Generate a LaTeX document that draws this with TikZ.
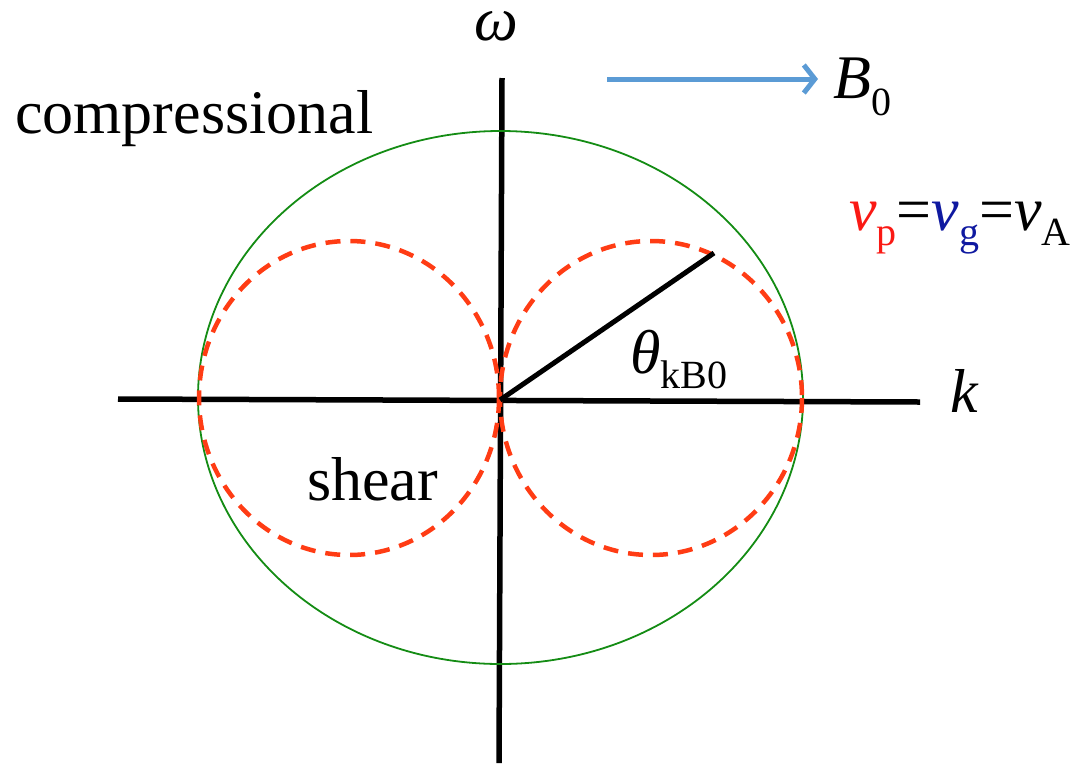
\documentclass[tikz,border=0pt]{standalone}
\usepackage{fontspec}
\newfontfamily\tnr{LiberationSerif}[Extension=.ttf,UprightFont=*-Regular,ItalicFont=*-Italic,BoldFont=*-Bold]
\usetikzlibrary{arrows.meta}
\definecolor{ellgreen}{RGB}{20,140,20}
\definecolor{dashred}{RGB}{255,60,20}
\definecolor{arrblue}{RGB}{91,155,213}
\definecolor{vpred}{RGB}{250,25,20}
\definecolor{vgblue}{RGB}{15,25,160}
\newcommand\bigfs{\tnr\fontsize{62}{70}\selectfont}
\newcommand\subfs{\tnr\fontsize{40}{44}\selectfont}
\begin{document}
\begin{tikzpicture}[x=1pt,y=-1pt,
  axisline/.style={line width=5.5pt,black},
  ellcurve/.style={line width=1.8pt,ellgreen},
  shearcurve/.style={line width=4.5pt,dashred,dash pattern=on 15pt off 10pt},
  lbl/.style={anchor=base west,inner sep=0pt,font=\bigfs}]
\useasboundingbox (0,0) rectangle (1081,764);
% axes
\coordinate (ktop) at (502,78);
\coordinate (kbot) at (499,763);
\coordinate (kl) at (118,399);
\coordinate (kr) at (920,402);
\coordinate (O) at (500,400);
\coordinate (P) at (714,253);
\draw[axisline] (kl) -- (kr);
\draw[axisline] (ktop) -- (kbot);
% curves
\draw[ellcurve] (500.5,397.5) ellipse [x radius=302.5, y radius=266.5];
\draw[shearcurve] (349,398) ellipse [x radius=150, y radius=157];
\draw[shearcurve] (651,398) ellipse [x radius=151, y radius=157];
% angle line
\draw[line width=5pt,black] (O) -- (P);
% B0 arrow
\coordinate (bs) at (607,79);
\coordinate (be) at (818,79);
\draw[line width=5pt,arrblue,-{Straight Barb[length=11pt,width=28pt]}] (bs) -- (be);
% labels
\node[lbl] (omega) at (474,40) {\itshape ω};
\node[lbl] (comp) at (15,133) {compressional};
\node[lbl] (shear) at (307,500) {shear};
\node[lbl] (kk) at (950,412) {\itshape k};
\node[lbl] (B0) at (833,98) {\itshape B\upshape\raisebox{-17pt}{\subfs 0}};
\node[lbl] (vel) at (849,230) {\textcolor{vpred}{\itshape v\upshape\raisebox{-15pt}{\subfs p}}=\textcolor{vgblue}{\itshape v\upshape\raisebox{-15pt}{\subfs g}}=\itshape v\upshape\raisebox{-15pt}{\subfs A}};
\node[lbl] (theta) at (630,373) {\itshape θ\upshape\raisebox{-15pt}{\subfs kB0}};
\end{tikzpicture}
\end{document}
